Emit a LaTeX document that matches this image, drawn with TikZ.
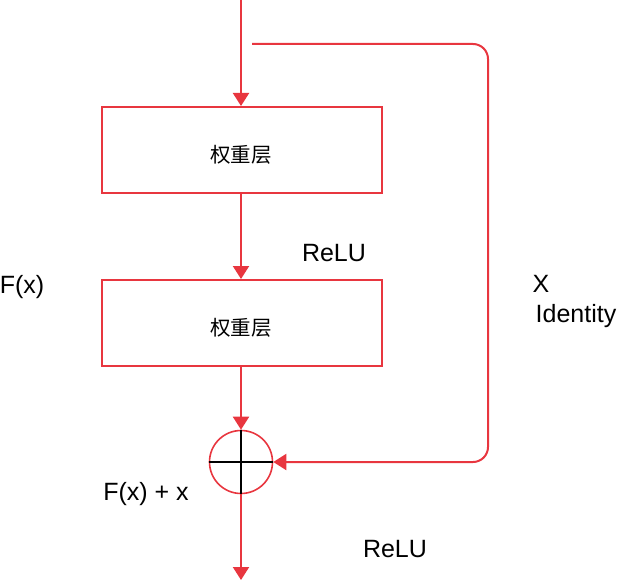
\documentclass[tikz,border=0pt]{standalone}
\usepackage{fontspec}
\setmainfont{Liberation Sans}
\newfontfamily\cjk{Noto Sans CJK SC}
\usetikzlibrary{arrows.meta}
\definecolor{lred}{HTML}{E8363F}
\begin{document}
\begin{tikzpicture}[x=1pt,y=-1pt,
  layer/.style={draw=lred,line width=2pt,minimum width=280pt,minimum height=86pt,inner sep=0pt},
  cjktext/.style={font=\cjk\fontsize{20.5}{20.5}\selectfont,inner sep=0pt},
  conn/.style={draw=lred,line width=2pt,-{Triangle[width=16pt,length=13pt]},color=lred},
  lbl/.style={font=\fontsize{25}{27}\selectfont,inner sep=0pt}]
\useasboundingbox (0,0) rectangle (617,580);
\coordinate (top) at (241,0);
\coordinate (skip) at (252,44);
\coordinate (out) at (241,580);
\node[layer] (w1) at (242,150) {};
\node[layer] (w2) at (242,323) {};
\node[cjktext] (t1) at (241,155) {权重层};
\node[cjktext] (t2) at (241,328) {权重层};
\node[circle,draw=lred,line width=1.6pt,minimum size=63pt,inner sep=0pt] (add) at (241,462) {};
\draw[line width=2pt] (add.north) -- (add.south) (add.west) -- (add.east);
\draw[conn] (top) -- (w1.north -| top);
\draw[conn] (w1.south -| top) -- (w2.north -| top);
\draw[conn] (w2.south -| top) -- (add.north);
\draw[conn] (add.south) -- (out);
\draw[conn,rounded corners=15pt] (skip) -- (488,44) -- (488,462) -- (add.east);
\node[lbl] (relu1) at (334,253) {ReLU};
\node[lbl] (fx) at (22,287) {F(x)};
\node[lbl] (xx) at (541,284) {X};
\node[lbl] (id) at (576,316) {Identity};
\node[lbl] (fxx) at (146,494) {F(x) + x};
\node[lbl] (relu2) at (395,549) {ReLU};
\end{tikzpicture}
\end{document}
